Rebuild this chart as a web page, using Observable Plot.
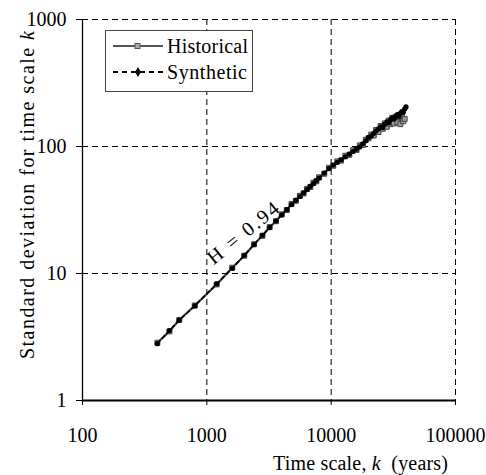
<!DOCTYPE html>
<html><head><meta charset="utf-8">
<script src="https://cdn.jsdelivr.net/npm/d3@7"></script>
<script src="https://cdn.jsdelivr.net/npm/@observablehq/plot@0.6"></script>
<style>
body{margin:0;background:#fff;}
#wrap{width:486px;height:475px;}
</style></head><body><div id="wrap"></div>
<script>
// time scale k (years)
const timeScale = [400, 500, 600, 800, 1200, 1600, 2000, 2400, 2800, 3200, 3600, 4000, 4400, 4800, 5200, 5600, 6000, 6400, 6800, 7200, 7600, 8000, 8800, 9600, 10400, 11200, 12000, 13000, 14000, 15000, 16000, 17000, 18000, 19000, 20000, 21000, 22000, 23000, 24000, 25000, 26000, 27000, 28000, 29000, 30000, 31000, 32000, 33000, 34000, 35000, 36000, 37000, 38000, 39000, 40000];
// standard deviation, historical series
const historical = [2.85, 3.5, 4.3, 5.6, 8.2, 11.1, 13.8, 17.0, 19.8, 23.2, 25.8, 29.2, 31.6, 35.3, 37.4, 40.9, 42.7, 46.3, 48.0, 51.8, 53.2, 57.2, 61.0, 68.0, 70.5, 76.3, 77.5, 84.5, 86.0, 93.5, 94.0, 102, 103, 113, 116, 124, 122, 135, 130, 145, 138, 152, 143, 160, 150, 168, 152, 172, 155, 175, 150, 178, 158, 165, null];
// standard deviation, synthetic series
const synthetic = [2.8, 3.55, 4.3, 5.55, 8.3, 11.0, 13.9, 16.9, 20.0, 23.0, 26.0, 28.9, 31.9, 34.9, 37.7, 40.4, 43.1, 45.8, 48.5, 51.1, 53.8, 56.5, 61.8, 67.0, 71.4, 75.1, 78.6, 82.9, 87.2, 91.3, 95.3, 99.2, 105, 111, 118, 121, 127, 133, 138, 143, 141, 150, 156, 154, 163, 168, 165, 172, 178, 174, 182, 188, 186, 197, 205];
const xTicks = [100, 1000, 10000, 100000];
const yTicks = [1, 10, 100, 1000];
const seriesNames = ["Historical", "Synthetic"];
const hurstLabel = "H = 0.94";

const histData = timeScale.map((k, i) => ({k, sd: historical[i]})).filter(d => d.sd != null);
const synData = timeScale.map((k, i) => ({k, sd: synthetic[i]}));

const font = "'Liberation Serif', 'DejaVu Serif', serif";
const fmt = d3.format("d");

const chart = Plot.plot({
  width: 486, height: 475,
  marginLeft: 82, marginRight: 31, marginTop: 19, marginBottom: 75,
  style: {fontFamily: font, fontSize: "20px", color: "#000", background: "#fff", overflow: "visible"},
  x: {type: "log", domain: [100, 100000], label: null},
  y: {type: "log", domain: [1, 1000], label: null},
  marks: [
    Plot.gridX(xTicks.slice(1), {stroke: "#000", strokeOpacity: 1, strokeWidth: 1, strokeDasharray: "6,4"}),
    Plot.gridY(yTicks.slice(1), {stroke: "#000", strokeOpacity: 1, strokeWidth: 1, strokeDasharray: "6,4"}),
    Plot.axisX(xTicks, {tickFormat: fmt, tickSize: 5, tickPadding: 22, label: null, fontSize: 20}),
    Plot.axisY(yTicks, {tickFormat: fmt, tickSize: 6, tickPadding: 10, label: null, fontSize: 20}),
    Plot.ruleX([100], {stroke: "#000", strokeWidth: 1.3}),
    Plot.ruleY([1], {stroke: "#000", strokeWidth: 2}),
    Plot.line(histData, {x: "k", y: "sd", stroke: "#444", strokeWidth: 2.2}),
    Plot.dot(histData, {x: "k", y: "sd", symbol: "square", r: 2.8, stroke: "#444", fill: "#999", strokeWidth: 1}),
    Plot.line(synData, {x: "k", y: "sd", stroke: "#000", strokeWidth: 1.6, strokeDasharray: "4,3"}),
    Plot.dot(synData, {x: "k", y: "sd", r: 2.6, fill: "#000", stroke: "none"}),
    Plot.text([{k: 1955, sd: 20.8}], {x: "k", y: "sd", text: () => hurstLabel, rotate: -39, fontSize: 20, fill: "#000"})
  ]
});

const svg = d3.select(chart);
// stretch the rotated annotation a little to match the reference lettering
svg.selectAll("g[aria-label='text'] text").attr("textLength", 86).attr("lengthAdjust", "spacing");

// axis titles
const xt = svg.append("text").attr("x", 448).attr("y", 470).attr("text-anchor", "end")
  .attr("font-family", font).attr("font-size", 20).attr("fill", "#000")
  .attr("textLength", 175).attr("lengthAdjust", "spacing");
xt.append("tspan").text("Time scale, ");
xt.append("tspan").attr("font-style", "italic").text("k");
xt.append("tspan").text("\u00a0 (years)");

const yt = svg.append("text").attr("transform", "translate(34,195) rotate(-90)").attr("text-anchor", "middle")
  .attr("font-family", font).attr("font-size", 20).attr("fill", "#000")
  .attr("textLength", 328).attr("lengthAdjust", "spacing");
yt.append("tspan").text("Standard deviation for time scale ");
yt.append("tspan").attr("font-style", "italic").text("k");

// legend
const lg = svg.append("g").attr("text-anchor", "start");
lg.append("rect").attr("x", 105.5).attr("y", 30.5).attr("width", 147).attr("height", 61)
  .attr("fill", "#fff").attr("stroke", "#444").attr("stroke-width", 1);
lg.append("line").attr("x1", 113).attr("x2", 163).attr("y1", 46).attr("y2", 46).attr("stroke", "#555").attr("stroke-width", 2);
lg.append("rect").attr("x", 135).attr("y", 43.5).attr("width", 5).attr("height", 5).attr("fill", "#aaa").attr("stroke", "#555");
lg.append("text").attr("x", 167).attr("y", 53).attr("font-family", font).attr("font-size", 20)
  .attr("textLength", 81).attr("lengthAdjust", "spacing").text(seriesNames[0]);
lg.append("line").attr("x1", 113).attr("x2", 163).attr("y1", 72).attr("y2", 72).attr("stroke", "#000").attr("stroke-width", 2.2).attr("stroke-dasharray", "5,4");
lg.append("path").attr("d", d3.symbol(d3.symbolDiamond, 30)()).attr("transform", "translate(138,72)").attr("fill", "#000");
lg.append("text").attr("x", 167).attr("y", 79).attr("font-family", font).attr("font-size", 20)
  .attr("textLength", 80).attr("lengthAdjust", "spacing").text(seriesNames[1]);

document.getElementById("wrap").appendChild(chart);
</script>
</body></html>
